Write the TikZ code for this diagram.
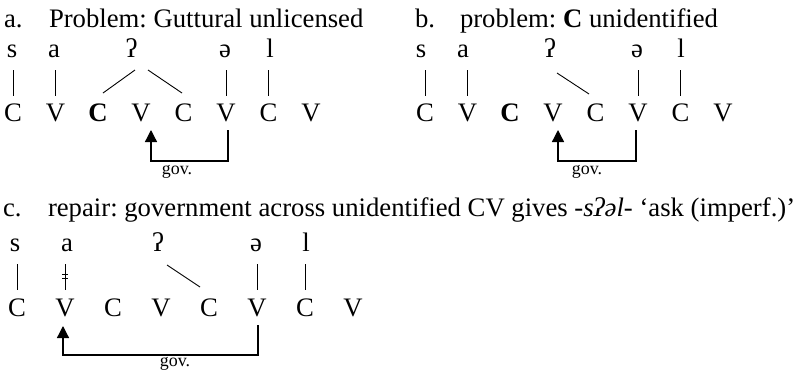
\documentclass[tikz,border=0pt]{standalone}
\usepackage{fontspec}
\setmainfont{Liberation Serif}
\usetikzlibrary{arrows.meta,calc}
\frenchspacing
\begin{document}
\begin{tikzpicture}[x=1bp,y=-1bp,
  every node/.style={inner sep=0pt,outer sep=0pt},
  hd/.style={anchor=base west,font=\fontsize{26.8}{30}\selectfont},
  seg/.style={anchor=base,font=\fontsize{26.8}{30}\selectfont,text height=17bp,text depth=0pt},
  assoc/.style={line width=0.9bp},
  vassoc/.style={assoc,shorten <=13bp,shorten >=8bp},
  govarrow/.style={line width=1.3bp,-{Triangle[width=12bp,length=12bp]}},
  govlbl/.style={anchor=base,font=\fontsize{18}{20}\selectfont}]
\useasboundingbox (0,0) rectangle (794,370);

% ---------------- panel a ----------------
\node[hd] (ha) at (4,27) {a.};
\node[hd] (hat) at (49,27) {Problem: Guttural unlicensed};
\node[seg] (as) at (12,57) {s};
\node[seg] (aa) at (54,57) {a};
\node[seg] (aq) at (131.5,57) {ʔ};
\node[seg] (ae) at (225,57) {ə};
\node[seg] (al) at (270,57) {l};
\node[seg] (ac1) at (13,121) {C};
\node[seg] (av2) at (55.5,121) {V};
\node[seg] (ac3) at (98,121) {\textbf{C}};
\node[seg] (av4) at (141,121) {V};
\node[seg] (ac5) at (183.5,121) {C};
\node[seg] (av6) at (226,121) {V};
\node[seg] (ac7) at (268.5,121) {C};
\node[seg] (av8) at (311,121) {V};
\draw[vassoc] (ac1.north |- as.south) -- (ac1.north);
\draw[vassoc] (av2.north |- aa.south) -- (av2.north);
\draw[vassoc] (av6.north |- ae.south) -- (av6.north);
\draw[vassoc] (ac7.north |- al.south) -- (ac7.north);
\draw[assoc] ($(aq.south)+(3.5,13)$) -- ($(ac3.north)+(5,-11)$);
\draw[assoc] ($(aq.south)+(16.5,13)$) -- ($(ac5.north)+(-1.5,-11)$);
\draw[govarrow] ($(av6.south)+(2,9)$) -- ++(0,31) -| ($(av4.south)+(10,9)$);
\node[govlbl] (agov) at (177,174) {gov.};

% ---------------- panel b ----------------
\node[hd] (hb) at (415,27) {b.};
\node[hd] (hbt) at (460,27) {problem: \textbf{C} unidentified};
\node[seg] (bs) at (421,57) {s};
\node[seg] (ba) at (463,57) {a};
\node[seg] (bq) at (550,57) {ʔ};
\node[seg] (be) at (637,57) {ə};
\node[seg] (bl) at (681,57) {l};
\node[seg] (bc1) at (425,121) {C};
\node[seg] (bv2) at (467.5,121) {V};
\node[seg] (bc3) at (510,121) {\textbf{C}};
\node[seg] (bv4) at (553,121) {V};
\node[seg] (bc5) at (595.5,121) {C};
\node[seg] (bv6) at (638,121) {V};
\node[seg] (bc7) at (680.5,121) {C};
\node[seg] (bv8) at (723,121) {V};
\draw[vassoc] (bc1.north |- bs.south) -- (bc1.north);
\draw[vassoc] (bv2.north |- ba.south) -- (bv2.north);
\draw[vassoc] (bv6.north |- be.south) -- (bv6.north);
\draw[vassoc] (bc7.north |- bl.south) -- (bc7.north);
\draw[assoc] ($(bq.south)+(7,16)$) -- ($(bc5.north)+(-6.5,-10)$);
\draw[govarrow] ($(bv6.south)+(-2,9)$) -- ++(0,31) -| ($(bv4.south)+(5,9)$);
\node[govlbl] (bgov) at (587,174) {gov.};

% ---------------- panel c ----------------
\node[hd] (hc) at (3,216) {c.};
\node[hd] (hct) at (48,216) {repair: government across unidentified CV gives \textit{-sʔəl-} ‘ask (imperf.)’};
\node[seg] (cs) at (15,251) {s};
\node[seg] (ca) at (67,251) {a};
\node[seg] (cq) at (158,251) {ʔ};
\node[seg] (ce) at (256,251) {ə};
\node[seg] (cl) at (306,251) {l};
\node[seg] (cc1) at (17,316) {C};
\node[seg] (cv2) at (65,316) {V};
\node[seg] (cc3) at (113,316) {C};
\node[seg] (cv4) at (161,316) {V};
\node[seg] (cc5) at (209,316) {C};
\node[seg] (cv6) at (257,316) {V};
\node[seg] (cc7) at (305,316) {C};
\node[seg] (cv8) at (353,316) {V};
\draw[vassoc,shorten >=9bp] (cc1.north |- cs.south) -- (cc1.north);
\draw[vassoc,shorten >=9bp] (cv2.north |- ca.south) -- (cv2.north);
\draw[vassoc,shorten >=9bp] (cv6.north |- ce.south) -- (cv6.north);
\draw[vassoc,shorten >=9bp] (cc7.north |- cl.south) -- (cc7.north);
\draw[assoc] ($(cv2.north)+(-3,-25)$) -- ++(6,0);
\draw[assoc] ($(cv2.north)+(-3,-21)$) -- ++(6,0);
\draw[assoc] ($(cq.south)+(9,14)$) -- ($(cc5.north)+(-9,-12)$);
\draw[govarrow] ($(cv6.south)+(1,9)$) -- ++(0,30) -| ($(cv2.south)+(-2,10)$);
\node[govlbl] (cgov) at (175,366) {gov.};
\end{tikzpicture}
\end{document}
